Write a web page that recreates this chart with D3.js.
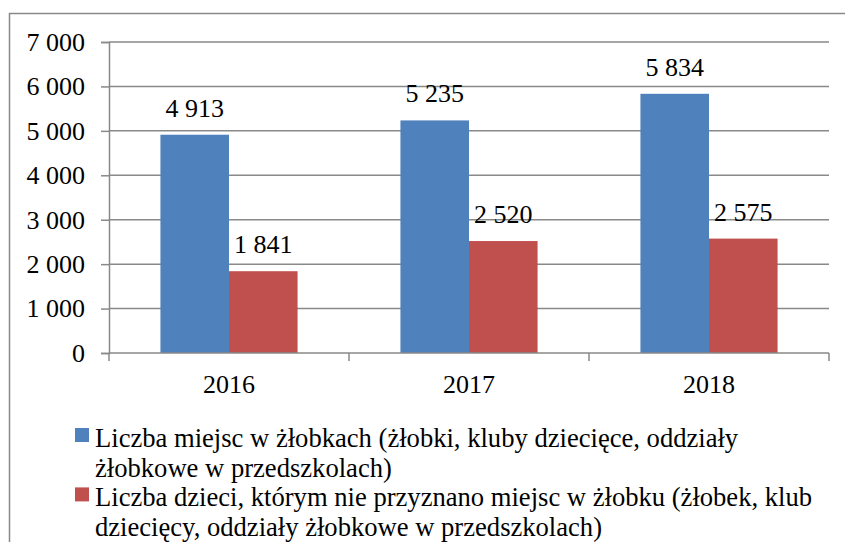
<!DOCTYPE html>
<html>
<head>
<meta charset="utf-8">
<script src="https://cdn.jsdelivr.net/npm/d3@7"></script>
<style>
  body { margin: 0; background: #fff; }
  svg { display: block; }
  svg text { font-family: "Liberation Serif", "Times New Roman", serif; }
</style>
</head>
<body>
<div id="chart"></div>
<script>
// data
var years = ["2016", "2017", "2018"];
var seriesNames = [
  "Liczba miejsc w żłobkach (żłobki, kluby dziecięce, oddziały żłobkowe w przedszkolach)",
  "Liczba dzieci, którym nie przyznano miejsc w żłobku (żłobek, klub dziecięcy, oddziały żłobkowe w przedszkolach)"
];
var placesValues = [4913, 5235, 5834];
var refusedValues = [1841, 2520, 2575];
var yTicks = [0, 1000, 2000, 3000, 4000, 5000, 6000, 7000];

var colors = ["#4f81bd", "#c0504d"],
    gridColor = "#898989",
    fontSize = 26,
    legendFontSize = 26.6;

var W = 845, H = 542,
    plotLeft = 109, plotRight = 829, plotTop = 42, plotBottom = 353;

var svg = d3.select("#chart").append("svg")
  .attr("width", W)
  .attr("height", H);

svg.append("rect")
  .attr("width", W).attr("height", H)
  .attr("fill", "#fff");

// outer frame (right and bottom edges fall outside the picture)
svg.append("rect")
  .attr("x", 9.5).attr("y", 13.5)
  .attr("width", W).attr("height", H)
  .attr("fill", "none")
  .attr("stroke", gridColor)
  .attr("stroke-width", 1.5);

var pl = d3.formatLocale({ decimal: ",", thousands: " ", grouping: [3], currency: ["", " zł"] });
var fmt = pl.format(",d");

var y = d3.scaleLinear().domain([0, 7000]).range([plotBottom, plotTop]);
var x = d3.scaleBand().domain(years).range([plotLeft, plotRight]).paddingInner(0).paddingOuter(0);
var xs = d3.scaleBand().domain([0, 1]).range([0, x.bandwidth()]).paddingInner(0).paddingOuter(0.75);

// gridlines
svg.append("g").selectAll("line")
  .data(yTicks.filter(function(d){ return d > 0; }))
  .join("line")
    .attr("x1", plotLeft).attr("x2", plotRight)
    .attr("y1", function(d){ return y(d); })
    .attr("y2", function(d){ return y(d); })
    .attr("stroke", gridColor)
    .attr("stroke-width", 1.5);

// y axis
var yAxis = svg.append("g")
  .attr("transform", "translate(" + plotLeft + ",0)")
  .call(d3.axisLeft(y).tickValues(yTicks).tickSize(8).tickPadding(16).tickFormat(fmt));
yAxis.attr("font-family", null).attr("font-size", null);
yAxis.select(".domain").attr("stroke", gridColor).attr("stroke-width", 1.5);
yAxis.selectAll(".tick line").attr("stroke", gridColor).attr("stroke-width", 1.5);
yAxis.selectAll("text")
  .attr("font-size", fontSize)
  .attr("fill", "#000");

// bars
var series = [placesValues, refusedValues];
var bars = svg.append("g");
series.forEach(function(vals, s) {
  bars.selectAll(".s" + s)
    .data(vals)
    .join("rect")
      .attr("class", "s" + s)
      .attr("x", function(d, i){ return x(years[i]) + xs(s); })
      .attr("y", function(d){ return y(d); })
      .attr("width", xs.bandwidth())
      .attr("height", function(d){ return y(0) - y(d); })
      .attr("fill", colors[s]);

  bars.selectAll(".l" + s)
    .data(vals)
    .join("text")
      .attr("class", "l" + s)
      .attr("x", function(d, i){ return x(years[i]) + xs(s) + xs.bandwidth() / 2; })
      .attr("y", function(d){ return y(d) - 18; })
      .attr("text-anchor", "middle")
      .attr("font-size", fontSize)
      .text(function(d){ return fmt(d); });
});

// x axis
var xAxisG = svg.append("g");
xAxisG.append("line")
  .attr("x1", plotLeft).attr("x2", plotRight)
  .attr("y1", plotBottom).attr("y2", plotBottom)
  .attr("stroke", gridColor).attr("stroke-width", 1.5);
var bounds = years.map(function(d){ return x(d); }).concat([plotRight]);
xAxisG.selectAll(".xt")
  .data(bounds)
  .join("line")
    .attr("class", "xt")
    .attr("x1", function(d){ return d; }).attr("x2", function(d){ return d; })
    .attr("y1", plotBottom).attr("y2", plotBottom + 8)
    .attr("stroke", gridColor).attr("stroke-width", 1.5);
xAxisG.selectAll("text")
  .data(years)
  .join("text")
    .attr("x", function(d){ return x(d) + x.bandwidth() / 2; })
    .attr("y", 393)
    .attr("text-anchor", "middle")
    .attr("font-size", fontSize)
    .text(function(d){ return d; });

// legend, wrapped by measured width
var legendX = 75, textX = 95, lineH = 29.7, maxW = 728;
var lineY = 447;
seriesNames.forEach(function(name, s) {
  svg.append("rect")
    .attr("x", legendX).attr("y", lineY - 19)
    .attr("width", 14).attr("height", 14)
    .attr("fill", colors[s]);

  var t = svg.append("text")
    .attr("x", textX).attr("y", lineY)
    .attr("font-size", legendFontSize);
  var words = name.split(" "), line = [];
  var tspan = t.append("tspan").attr("x", textX).attr("y", lineY);
  words.forEach(function(w) {
    line.push(w);
    tspan.text(line.join(" "));
    if (tspan.node().getComputedTextLength() > maxW && line.length > 1) {
      line.pop();
      tspan.text(line.join(" "));
      line = [w];
      lineY += lineH;
      tspan = t.append("tspan").attr("x", textX).attr("y", lineY).text(w);
    }
  });
  lineY += lineH;
});
</script>
</body>
</html>
